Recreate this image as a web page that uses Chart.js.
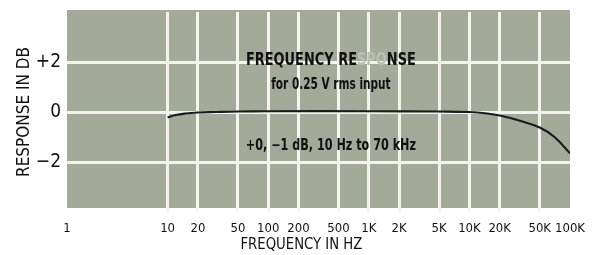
<!DOCTYPE html>
<html>
<head>
<meta charset="utf-8">
<script src="https://cdn.jsdelivr.net/npm/chart.js@4"></script>
<style>
html,body{margin:0;padding:0;background:#fff;}
#wrap{width:602px;height:255px;position:relative;}
</style>
</head>
<body>
<div id="wrap"><canvas id="c" width="602" height="255"></canvas></div>
<script>
// ---- data ----
const freqHz   = [10, 12, 15, 20, 30, 50, 100, 1000, 5000, 10000, 15000, 20000, 30000, 50000, 70000, 100000];
const respDb   = [-0.22, -0.12, -0.06, -0.02, 0, 0.02, 0.03, 0.03, 0.02, 0, -0.06, -0.14, -0.32, -0.62, -1.0, -1.65];
const xTickVals   = [1, 10, 20, 50, 100, 200, 500, 1000, 2000, 5000, 10000, 20000, 50000, 100000];
const xTickLabels = ['1', '10', '20', '50', '100', '200', '500', '1K', '2K', '5K', '10K', '20K', '50K', '100K'];
const yTickVals   = [-4, -2, 0, 2, 4];
const yTickLabels = ['', '\u22122', '0', '+2', ''];
const xTitle = 'FREQUENCY IN HZ';
const yTitle = 'RESPONSE IN DB';
const titleParts = ['FREQUENCY RE', 'SPO', 'NSE'];
const noteLines  = ['for 0.25 V rms input', '+0, \u22121 dB, 10 Hz to 70 kHz'];
const noteAnchor = {x: 420, yTitle: 2.07, ySub: 1.06, yNote: -1.38, xTitleAt: 214};

const NARROW = '"DejaVu Sans Condensed", "Liberation Sans Narrow", sans-serif';
const GRID = '#f4f4ec';

function condensedText(ctx, text, x, y, sx, align) {
  ctx.save();
  ctx.translate(x, y);
  ctx.scale(sx, 1);
  ctx.textAlign = align || 'center';
  ctx.fillText(text, 0, 0);
  ctx.restore();
}

const bgPlugin = {
  id: 'bg',
  beforeDraw(chart) {
    const {ctx, chartArea: a} = chart;
    ctx.save();
    ctx.fillStyle = '#a3aa99';
    ctx.fillRect(a.left, a.top - 2, a.right - a.left, a.bottom - a.top - 2);
    ctx.restore();
  }
};

const textPlugin = {
  id: 'notes',
  afterDatasetsDraw(chart) {
    const {ctx, scales: {x, y}} = chart;
    const cx = x.getPixelForValue(noteAnchor.x);
    ctx.save();
    ctx.textBaseline = 'middle';
    const sx = 0.8;
    ctx.font = 'bold 18px ' + NARROW;
    const w = titleParts.map(t => ctx.measureText(t).width * sx);
    const total = w.reduce((s, v) => s + v, 0);
    let px = cx - total / 2;
    const ty = y.getPixelForValue(noteAnchor.yTitle);
    const cols = ['#111', '#bcc0b3', '#111'];
    titleParts.forEach((t, i) => {
      ctx.fillStyle = cols[i];
      condensedText(ctx, t, px, ty, sx, 'left');
      px += w[i];
    });
    ctx.fillStyle = '#111';
    ctx.font = 'bold 15px ' + NARROW;
    condensedText(ctx, noteLines[0], cx, y.getPixelForValue(noteAnchor.ySub), 0.78);
    condensedText(ctx, noteLines[1], cx, y.getPixelForValue(noteAnchor.yNote), 0.83);
    ctx.font = '16px ' + NARROW;
    condensedText(ctx, xTitle, x.getPixelForValue(noteAnchor.xTitleAt), 245, 0.92);
    ctx.restore();
  }
};

new Chart(document.getElementById('c'), {
  type: 'line',
  data: {
    datasets: [{
      data: freqHz.map((f, i) => ({x: f, y: respDb[i]})),
      borderColor: '#1a1a1a',
      borderWidth: 2.2,
      pointRadius: 0,
      fill: false,
      tension: 0.4
    }]
  },
  options: {
    responsive: false,
    animation: false,
    devicePixelRatio: 1,
    layout: {autoPadding: false, padding: {top: 12, right: 32, left: 0, bottom: 0}},
    plugins: {legend: {display: false}, tooltip: {enabled: false}},
    scales: {
      x: {
        type: 'logarithmic',
        min: 1, max: 100000,
        afterBuildTicks(s) { s.ticks = xTickVals.map(v => ({value: v})); },
        afterFit(s) { s.height = 43; s.paddingLeft = 0; s.paddingRight = 0; },
        ticks: {
          autoSkip: false, maxRotation: 0, minRotation: 0,
          padding: 9,
          color: '#111',
          font: {family: NARROW, size: 13},
          callback(v) { const i = xTickVals.indexOf(v); return i >= 0 ? xTickLabels[i] : ''; }
        },
        grid: {
          color: c => (c.tick && (c.tick.value === 1 || c.tick.value === 100000)) ? 'rgba(0,0,0,0)' : GRID,
          lineWidth: 3, drawTicks: false
        },
        border: {display: false},
        title: {display: false, text: xTitle}
      },
      y: {
        min: -4, max: 4,
        afterBuildTicks(s) { s.ticks = yTickVals.map(v => ({value: v})); },
        afterFit(s) { s.width = 67; s.paddingTop = 0; s.paddingBottom = 0; },
        ticks: {
          color: '#111',
          padding: 6,
          font: {family: NARROW, size: 19},
          callback(v) { const i = yTickVals.indexOf(v); return i >= 0 ? yTickLabels[i] : ''; }
        },
        grid: {
          color: c => (c.tick && Math.abs(c.tick.value) === 4) ? 'rgba(0,0,0,0)' : GRID,
          lineWidth: 3, drawTicks: false
        },
        border: {display: false},
        title: {display: true, text: yTitle, color: '#111', font: {family: NARROW, size: 17}, padding: {top: 14, bottom: 0}}
      }
    }
  },
  plugins: [bgPlugin, textPlugin]
});
</script>
</body>
</html>
